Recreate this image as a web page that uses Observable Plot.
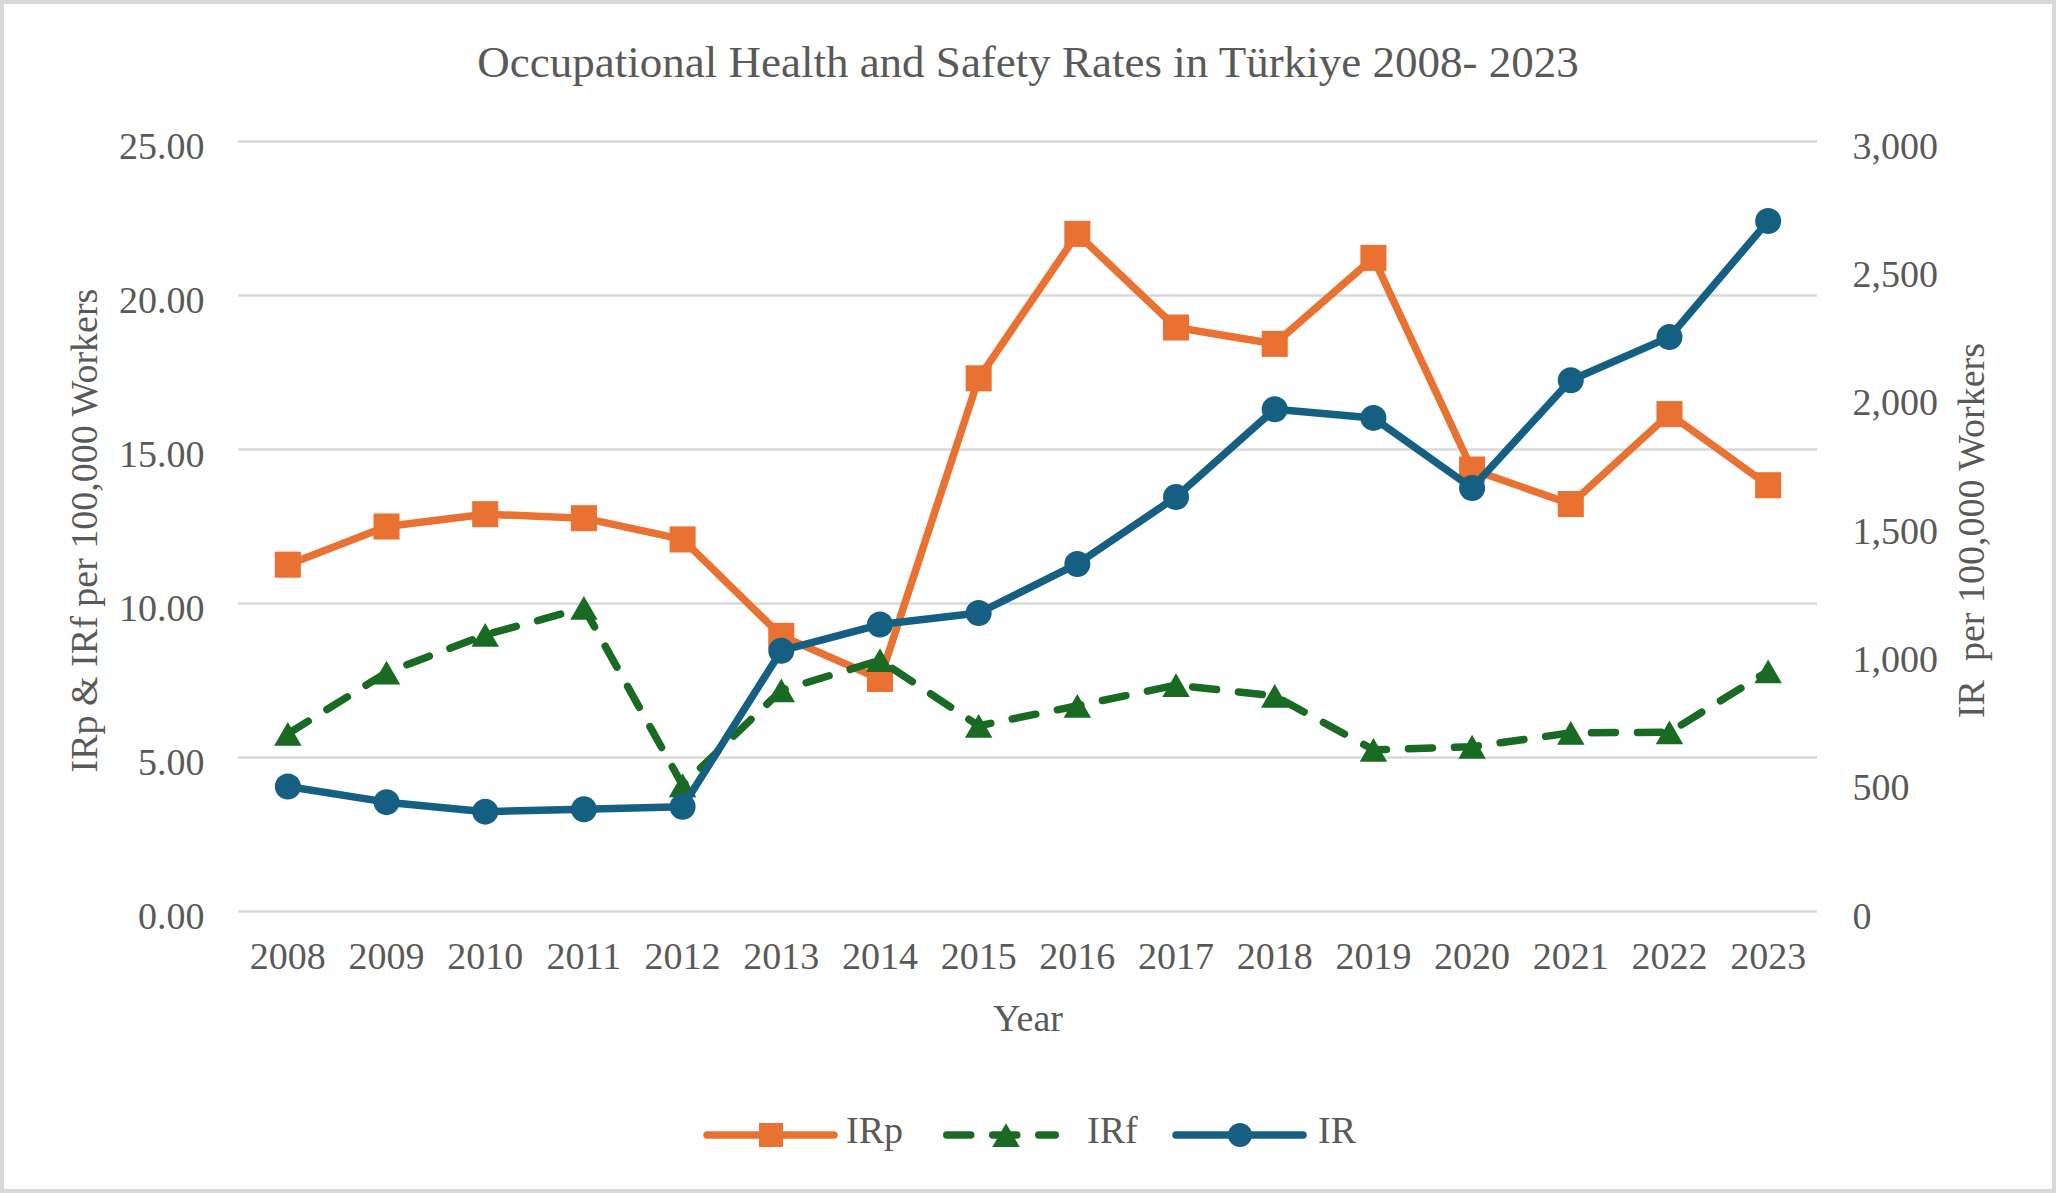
<!DOCTYPE html>
<html>
<head>
<meta charset="utf-8">
<script src="https://cdn.jsdelivr.net/npm/d3@7"></script>
<script src="https://cdn.jsdelivr.net/npm/@observablehq/plot@0.6"></script>
<style>
html, body { margin: 0; padding: 0; background: #fff; }
#chart { position: relative; width: 2056px; height: 1193px; background: #fff; overflow: hidden;
  font-family: "Liberation Serif", "Times New Roman", serif; color: #595959; }
#frame { position: absolute; left: 0; top: 0; width: 2056px; height: 1193px; box-sizing: border-box;
  border: 4px solid #d9d9d9; pointer-events: none; }
#title { position: absolute; left: 0; top: 36px; width: 2056px; text-align: center; font-size: 45px; line-height: 52px; }
.layer { position: absolute; left: 0; top: 100px; width: 2056px; }
#legend { position: absolute; left: 0; top: 1095px; width: 2056px; }
</style>
</head>
<body>
<div id="chart">
  <div id="title"></div>
  <div id="main" class="layer"></div>
  <div id="overlay" class="layer"></div>
  <div id="legend"></div>
  <div id="frame"></div>
</div>
<script>
// ---- Data ----
const titleText = "Occupational Health and Safety Rates in Türkiye 2008- 2023";
const years = [2008, 2009, 2010, 2011, 2012, 2013, 2014, 2015, 2016, 2017, 2018, 2019, 2020, 2021, 2022, 2023];
const irp = [11.26, 12.50, 12.90, 12.77, 12.08, 8.95, 7.55, 17.31, 22.00, 18.96, 18.43, 21.22, 14.35, 13.23, 16.15, 13.84];
const irf = [5.77, 7.76, 8.98, 9.86, 4.10, 7.18, 8.16, 6.03, 6.68, 7.35, 7.00, 5.25, 5.35, 5.80, 5.82, 7.80];
const ir  = [487, 426, 389, 398, 408, 1016, 1118, 1163, 1354, 1615, 1957, 1923, 1650, 2070, 2238, 2690];
const leftTicks = [0, 5, 10, 15, 20, 25];
const rightTicks = [0, 500, 1000, 1500, 2000, 2500, 3000];
const seriesNames = ["IRp", "IRf", "IR"];
const leftTitle = "IRp & IRf per 100,000 Workers";
const rightTitle = "IR\u00a0 per 100,000 Workers";
const xTitle = "Year";

const orange = "#E97132", green = "#196B24", blue = "#156082";
const textColor = "#595959";

document.getElementById("title").textContent = titleText;

const rows = years.map((y, i) => ({year: String(y), irp: irp[i], irf: irf[i], ir: ir[i]}));

const common = {
  width: 2056, height: 960,
  marginTop: 41, marginBottom: 149, marginLeft: 238, marginRight: 239,
  x: {type: "point", domain: rows.map(d => d.year), padding: 0.5, round: false, axis: null},
  style: {background: "transparent", fontFamily: '"Liberation Serif","Times New Roman",serif',
          fontSize: "38px", color: textColor, overflow: "visible"}
};

const main = Plot.plot({
  ...common,
  y: {domain: [0, 25], axis: null},
  marks: [
    Plot.gridY(leftTicks, {stroke: "#d9d9d9", strokeOpacity: 1, strokeWidth: 2.5}),
    Plot.line(rows, {x: "year", y: "irp", stroke: orange, strokeWidth: 7.5, strokeLinejoin: "round", strokeLinecap: "round"}),
    Plot.dot(rows, {x: "year", y: "irp", symbol: "square", r: 14.7, fill: orange}),
    Plot.line(rows, {x: "year", y: "irf", stroke: green, strokeWidth: 7.5, strokeDasharray: "24,22", strokeLinecap: "round", strokeLinejoin: "round"}),
    Plot.dot(rows, {x: "year", y: "irf", symbol: "triangle", r: 10.2, fill: green, dy: 4}),
    Plot.axisY(leftTicks, {anchor: "left", tickSize: 0, tickPadding: 34, tickFormat: d3.format(".2f"), fontSize: 38, dy: 5, label: null}),
    Plot.axisX({anchor: "bottom", tickSize: 0, tickPadding: 31, fontSize: 38, label: null}),
    Plot.text([leftTitle], {text: d => d, frameAnchor: "left", textAnchor: "middle", lineAnchor: "middle",
      rotate: -90, dx: -154, dy: 4, fontSize: 38, fill: textColor}),
    Plot.text([xTitle], {text: d => d, frameAnchor: "bottom", textAnchor: "middle", lineAnchor: "middle",
      dy: 107, fontSize: 38, fill: textColor})
  ]
});
document.getElementById("main").appendChild(main);

const over = Plot.plot({
  ...common,
  y: {domain: [0, 3000], axis: null},
  marks: [
    Plot.line(rows, {x: "year", y: "ir", stroke: blue, strokeWidth: 7.5, strokeLinejoin: "round", strokeLinecap: "round"}),
    Plot.dot(rows, {x: "year", y: "ir", r: 13, fill: blue}),
    Plot.axisY(rightTicks, {anchor: "right", tickSize: 0, tickPadding: 35, tickFormat: d3.format(","), fontSize: 38, dy: 5, label: null}),
    Plot.text([rightTitle], {text: d => d, frameAnchor: "right", textAnchor: "middle", lineAnchor: "middle",
      rotate: -90, dx: 154, dy: 4, fontSize: 38, fill: textColor})
  ]
});
document.getElementById("overlay").appendChild(over);

// ---- Legend ----
const leg = d3.select("#legend").append("svg").attr("width", 2056).attr("height", 80)
  .style("font-family", '"Liberation Serif","Times New Roman",serif');
const ly = 40;
// IRp
leg.append("line").attr("x1", 707).attr("x2", 834).attr("y1", ly).attr("y2", ly)
  .attr("stroke", orange).attr("stroke-width", 7.5).attr("stroke-linecap", "round");
leg.append("path").attr("d", d3.symbol(d3.symbolSquare, 24 * 24)()).attr("transform", `translate(771,${ly})`).attr("fill", orange);
leg.append("text").attr("x", 846).attr("y", ly + 8).attr("font-size", 38).attr("fill", textColor).text(seriesNames[0]);
// IRf
leg.append("line").attr("x1", 946.75).attr("x2", 1055.25).attr("y1", ly).attr("y2", ly)
  .attr("stroke", green).attr("stroke-width", 7.5).attr("stroke-linecap", "round").attr("stroke-dasharray", "24,22");
leg.append("path").attr("d", d3.symbol(d3.symbolTriangle, 327)()).attr("transform", `translate(1006,${ly + 4})`).attr("fill", green);
leg.append("text").attr("x", 1087).attr("y", ly + 8).attr("font-size", 38).attr("fill", textColor).text(seriesNames[1]);
// IR
leg.append("line").attr("x1", 1176).attr("x2", 1303).attr("y1", ly).attr("y2", ly)
  .attr("stroke", blue).attr("stroke-width", 7.5).attr("stroke-linecap", "round");
leg.append("circle").attr("cx", 1240).attr("cy", ly).attr("r", 12).attr("fill", blue);
leg.append("text").attr("x", 1318).attr("y", ly + 8).attr("font-size", 38).attr("fill", textColor).text(seriesNames[2]);
</script>
</body>
</html>
